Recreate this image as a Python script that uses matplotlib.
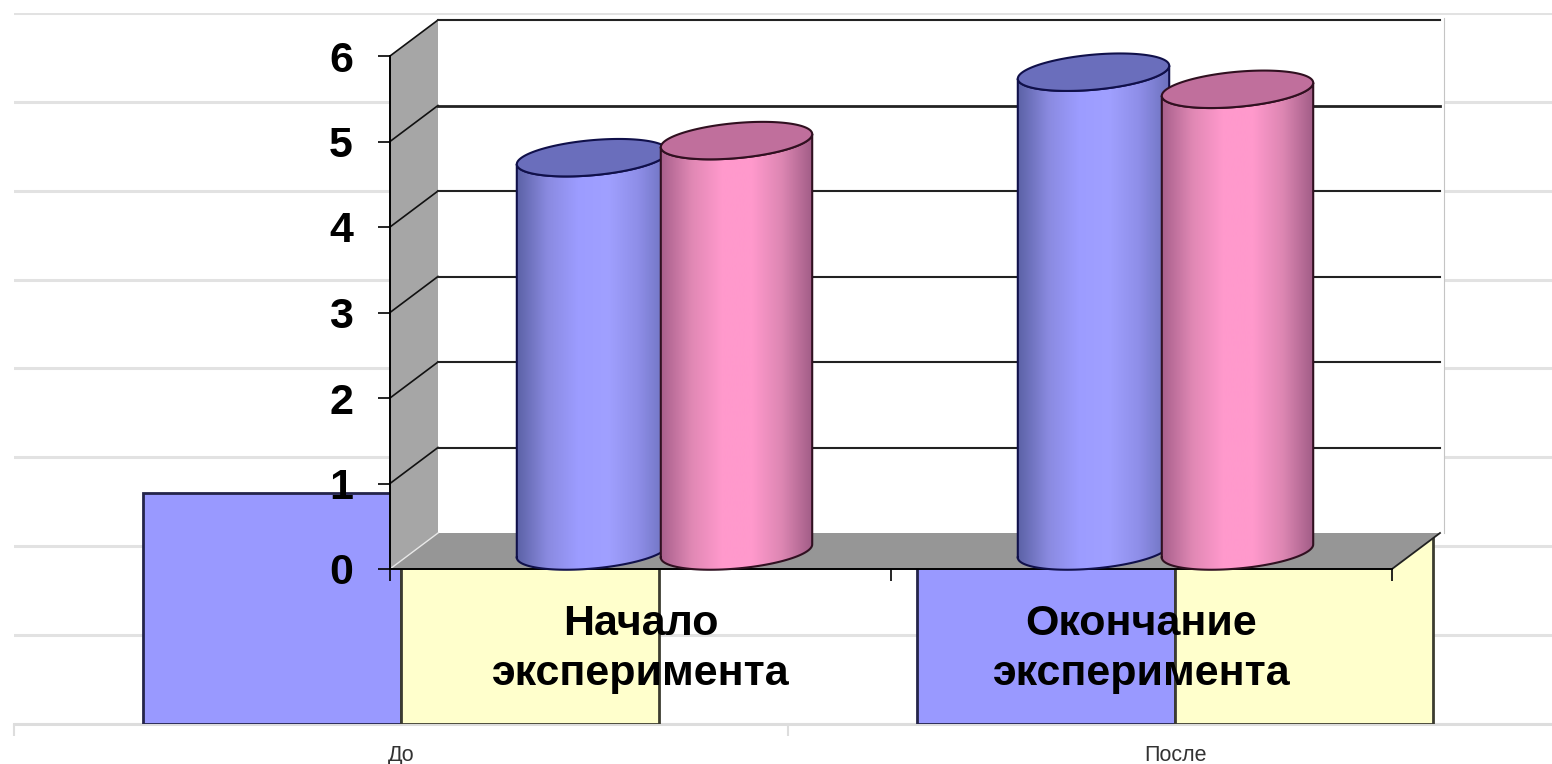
import matplotlib
matplotlib.use('Agg')
import matplotlib.pyplot as plt
from matplotlib.patches import Polygon, Rectangle, PathPatch
from matplotlib.path import Path
from matplotlib.colors import LinearSegmentedColormap
from matplotlib.transforms import ScaledTranslation
import numpy as np

plt.rcParams['font.family'] = ['Liberation Sans', 'DejaVu Sans']

# back chart (mostly hidden behind the front one)
back_categories = ['До', 'После']
back_purple = [2.6, 2.9]
back_yellow = [2.5, 3.2]

# front chart
categories = ['Начало\nэксперимента', 'Окончание\nэксперимента']
series_blue = [4.6, 5.6]
series_pink = [4.8, 5.4]
y_ticks = [0, 1, 2, 3, 4, 5, 6]

W, H = 1552, 764
fig = plt.figure(figsize=(W/100, H/100), dpi=100, facecolor='white')

#--back chart
bg = fig.add_axes([14/W, (H-724)/H, 1548/W, 711/H])
bar_w = 1/3
x = np.array([0.5, 1.5])
bg.bar(x-bar_w/2, back_purple, bar_w, color='#9999FF', edgecolor='#24244A', linewidth=2.0, zorder=3)
bg.bar(x+bar_w/2, back_yellow, bar_w, color='#FFFFCC', edgecolor='#3C3C30', linewidth=2.0, zorder=3)
bg.set_xlim(0, 2)
bg.set_ylim(0, 8)
bg.set_yticks(range(9))
bg.set_xticks([0, 1, 2])
bg.set_xticks(x, minor=True)
bg.set_xticklabels(back_categories, minor=True, fontsize=15.5, color='#333333')
bg.set_xticklabels([])
bg.tick_params(axis='x', which='major', length=8.6, width=1.5, color='#DDDDDD')
bg.tick_params(axis='x', which='minor', length=0, pad=15)
bg.tick_params(axis='y', length=0, labelleft=False)
bg.grid(axis='y', color='#E2E2E2', linewidth=2.2, zorder=0)
bg.set_axisbelow(True)
for s in ['top', 'left', 'right']:
    bg.spines[s].set_visible(False)
bg.spines['bottom'].set_color('#DDDDDD')
bg.spines['bottom'].set_linewidth(2.2)

#--front chart
ax = fig.add_axes([390/W, (H-569)/H, 1002/W, 513/H])
ax.patch.set_alpha(0)
ax.set_xlim(0, 2)
ax.set_ylim(0, 6)
px_x = 501.0  # pixels per category
px_y = 85.5   # pixels per y unit
dx = 48/px_x  # depth of the box
dy = 36/px_y
right_edge = 2+52/px_x

# white panel, walls and floor
ax.add_patch(Rectangle((0, dy), right_edge, 6+4/px_y, facecolor='white', edgecolor='none', clip_on=False, zorder=1))
ax.plot([right_edge, right_edge], [dy, 6+dy+2/px_y], color='#C4C4C4', lw=0.8, clip_on=False, zorder=1.1)
ax.add_patch(Polygon([(0, 0), (dx, dy), (dx, 6+dy), (0, 6)], facecolor='#A6A6A6', edgecolor='none', clip_on=False, zorder=1.2))
ax.add_patch(Polygon([(0, 0), (dx, dy), (2+dx, dy), (2, 0)], facecolor='#969696', edgecolor='none', clip_on=False, zorder=1.2))
ax.plot([0, dx], [0, dy], color='#E8E8E8', lw=1, clip_on=False, zorder=1.3)
ax.plot([2, 2+dx], [0, dy], color='#222222', lw=1.3, clip_on=False, zorder=1.3)
for v in y_ticks[1:]:
    lw = 2.0 if v == 5 else 1.5
    ax.plot([0, dx], [v, v+dy], color='#111111', lw=1.2, clip_on=False, zorder=1.3)
    ax.plot([dx, 2+dx], [v+dy, v+dy], color='#222222', lw=lw, clip_on=False, zorder=1.3)


def draw_cylinder(xc, value, stops, top_color, edge, z):
    # tilted ellipse in pixels, then converted to data units
    a, b, th = 76.0, 17.5, np.radians(5.2)
    t_r = np.arctan2(-b*np.sin(th), a*np.cos(th))
    def ell(t):
        ex = a*np.cos(t)*np.cos(th)-b*np.sin(t)*np.sin(th)
        ey = a*np.cos(t)*np.sin(th)+b*np.sin(t)*np.cos(th)
        return ex/px_x, ey/px_y
    yb = dy/2
    yt = value+dy/2
    front = np.linspace(t_r+np.pi, t_r+2*np.pi, 60)
    fx, fy = ell(front)
    bx = np.r_[xc+fx, (xc+fx)[::-1]]
    by = np.r_[yb+fy, (yt+fy)[::-1]]
    cmap = LinearSegmentedColormap.from_list('c', stops)
    grad = np.linspace(0, 1, 256).reshape(1, -1)
    im = ax.imshow(grad, cmap=cmap, aspect='auto', interpolation='bilinear',
                   extent=[bx.min(), bx.max(), yb-1, yt+1], zorder=z, clip_on=True)
    im.set_clip_path(PathPatch(Path(np.c_[bx, by]), transform=ax.transData))
    ax.plot(np.r_[bx, bx[0]], np.r_[by, by[0]], color=edge, lw=1.5, clip_on=False, zorder=z+0.1)
    ta = np.linspace(0, 2*np.pi, 160)
    tx, ty = ell(ta)
    ax.fill(xc+tx, yt+ty, facecolor=top_color, edgecolor=edge, lw=1.5, clip_on=False, zorder=z+0.2)


blue_stops = ['#5C62A6', '#8A8AE0', '#9C9CFF', '#A0A0FF', '#8E8EE8', '#6C70BC']
pink_stops = ['#A8608C', '#E088B4', '#FF99CC', '#FF99CC', '#DC86B2', '#A05C86']
off = 72/px_x
for i in range(2):
    xc = x[i]+dx/2
    draw_cylinder(xc-off, series_blue[i], blue_stops, '#6A6EBC', '#10104A', 2+i)
    draw_cylinder(xc+off, series_pink[i], pink_stops, '#C06F9C', '#301020', 2.5+i)

ax.set_xlim(0, 2)
ax.set_ylim(0, 6)
ax.set_yticks(y_ticks)
ax.set_yticklabels(y_ticks, fontsize=31, fontweight='bold')
up = ScaledTranslation(-1/100, 1.5/100, fig.dpi_scale_trans)
for lab in ax.get_yticklabels():
    lab.set_transform(lab.get_transform()+up)
ax.set_xticks([0, 1, 2])
ax.set_xticklabels([])
ax.set_xticks(x, minor=True)
ax.set_xticklabels(categories, minor=True, fontsize=31, fontweight='bold', linespacing=1.33)
ax.tick_params(axis='y', length=8.6, width=1.2, pad=18)
ax.tick_params(axis='x', which='major', length=8.6, width=1.2)
ax.tick_params(axis='x', which='minor', length=0, pad=25)
for s in ['top', 'right']:
    ax.spines[s].set_visible(False)
ax.spines['left'].set_linewidth(1.4)
ax.spines['bottom'].set_linewidth(1.4)
ax.spines['left'].set_zorder(6)
ax.spines['bottom'].set_zorder(1.4)

fig.savefig('out.png', dpi=100)
